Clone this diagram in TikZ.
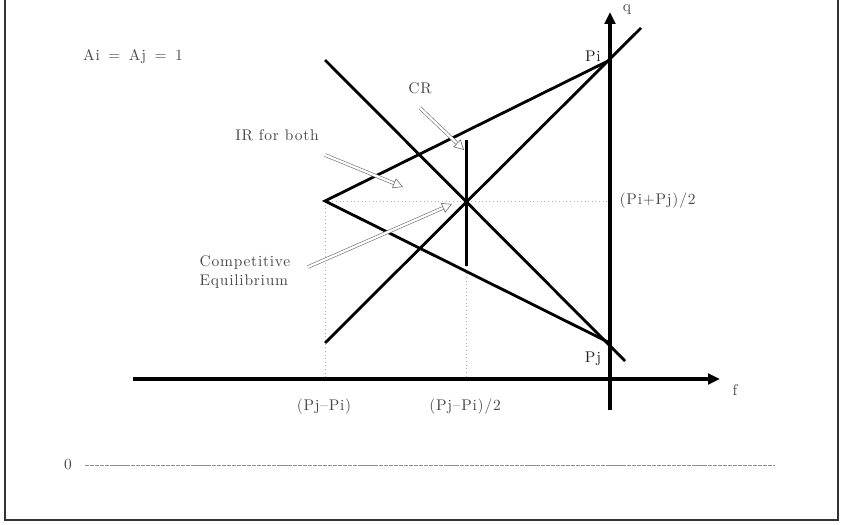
\documentclass[tikz,border=0pt]{standalone}
\usepackage{fontspec}
\usetikzlibrary{arrows.meta}
\newfontfamily\plotfont{Latin Modern Roman}[LetterSpace=5]

\begin{document}
\begin{tikzpicture}[>={Triangle[length=8.5pt,width=7.5pt]},
  curve/.style={line width=2pt},
  axis/.style={line width=2.4pt},
  lbl/.style={text=black!72,font=\plotfont\fontsize{11}{14}\selectfont,inner sep=1pt},
  hollow/.style={draw=black!55,line width=0.45pt,double=white,double distance=1.6pt,
    -{Triangle[open,length=7pt,width=7.5pt,line width=0.45pt]}},
  guide/.style={black!30,dotted,line width=0.6pt}]
\useasboundingbox (0,0) rectangle (21.05,13.1);
\draw[line width=1.6pt,black!80] (0.125,13.1) -- (0.125,0.1) -- (20.95,0.1) -- (20.95,13.1);
% key points
\coordinate (Pi) at (15.25,11.6);
\coordinate (Pj) at (15.25,4.525);
\coordinate (apex) at (8.125,8.075);
\coordinate (eq) at (11.65,8.075);
\coordinate (upL) at (8.125,4.525);
\coordinate (upR) at (16.025,12.4);
\coordinate (dnL) at (8.125,11.6);
\coordinate (dnR) at (15.625,4.075);
\coordinate (crT) at (11.66,9.6);
\coordinate (crB) at (11.66,6.45);
\coordinate (f0) at (3.325,3.625);
\coordinate (f1) at (18.0,3.625);
\coordinate (q0) at (15.25,2.85);
\coordinate (q1) at (15.25,12.8);
% guides
\draw[guide] (apex) -- (Pi |- apex);
\draw[guide] (apex) -- (apex |- f0);
\draw[guide] (crB) -- (crB |- f0);
% axes
\draw[axis,->] (f0) -- (f1);
\draw[axis,->] (q0) -- (q1);
\node[lbl] (fL) at (18.375,3.35) {f};
\node[lbl] (qL) at (15.675,12.85) {q};
% lines
\draw[curve] (upL) -- (upR);
\draw[curve] (dnL) -- (dnR);
\draw[curve] (Pj) -- (apex) -- (Pi);
\draw[curve,line width=2.5pt] (crB) -- (crT);
% labels
\node[lbl] (AiAj) at (3.325,11.675) {Ai \,=\, Aj \,=\, 1};
\node[lbl,text=black!88] (PiL) at (14.825,11.7) {Pi};
\node[lbl,text=black!88] (PjL) at (14.825,4.125) {Pj};
\node[lbl,anchor=west] (midL) at (15.45,8.075) {(Pi+Pj)/2};
\node[lbl] (dPL) at (8.1,2.925) {(Pj–Pi)};
\node[lbl] (hPL) at (11.625,2.925) {(Pj–Pi)/2};
\node[lbl] (CR) at (10.5,10.9) {CR};
\node[lbl] (IR) at (6.925,9.725) {IR for both};
\node[lbl,align=left] (CE) at (6.125,6.3) {Competitive\\Equilibrium};
% pointers
\coordinate (crA) at (10.5,10.4);
\coordinate (crZ) at (11.6,9.35);
\coordinate (irA) at (8.125,9.225);
\coordinate (irZ) at (10.075,8.425);
\coordinate (ceA) at (7.7,6.425);
\coordinate (ceZ) at (11.3,8.0);
\draw[hollow] (crA) -- (crZ);
\draw[hollow] (irA) -- (irZ);
\draw[hollow] (ceA) -- (ceZ);
% zero line
\node[lbl] (zero) at (1.7,1.475) {0};
\coordinate (z0) at (2.125,1.475);
\coordinate (z1) at (19.375,1.475);
\draw[black!45,line width=0.5pt,dash pattern=on 3pt off 0.6pt] (z0) -- (z1);
\end{tikzpicture}
\end{document}
